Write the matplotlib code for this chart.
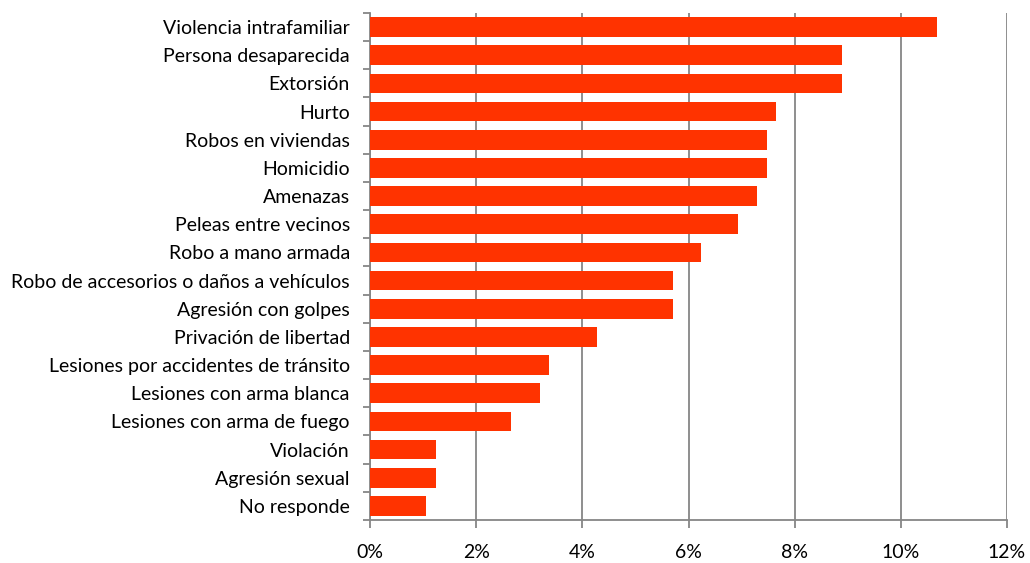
import numpy as np
import matplotlib.pyplot as plt
from matplotlib.ticker import FuncFormatter, FixedLocator

# ==========================================================
# Data (percent of respondents)
# ==========================================================

categories = [
    "Violencia intrafamiliar",
    "Persona desaparecida",
    "Extorsión",
    "Hurto",
    "Robos en viviendas",
    "Homicidio",
    "Amenazas",
    "Peleas entre vecinos",
    "Robo a mano armada",
    "Robo de accesorios o daños a vehículos",
    "Agresión con golpes",
    "Privación de libertad",
    "Lesiones por accidentes de tránsito",
    "Lesiones con arma blanca",
    "Lesiones con arma de fuego",
    "Violación",
    "Agresión sexual",
    "No responde",
]

values = [
    10.68, 8.89, 8.89, 7.65, 7.47, 7.47, 7.29, 6.94, 6.23,
    5.70, 5.70, 4.27, 3.37, 3.20, 2.66, 1.24, 1.24, 1.06,
]

x_ticks = [0, 2, 4, 6, 8, 10, 12]

plt.rcParams["font.family"] = ["Lato", "DejaVu Sans"]

fig = plt.figure(figsize=(10.30, 5.63), dpi=100)
ax = fig.add_axes([0.3592, 0.0764, 0.9777 - 0.3592, 0.977 - 0.0764])

grid_color = "#868686"

y = np.arange(len(categories))
ax.barh(y, values, height=0.7, color="#FF3300", zorder=3)

ax.set_xlim(0, 12)
ax.set_ylim(len(categories) - 0.5, -0.5)

ax.set_xticks(x_ticks)
ax.xaxis.set_major_formatter(FuncFormatter(lambda v, p: f"{v:.0f}%"))
ax.grid(axis="x", color=grid_color, linewidth=1.3, zorder=0)

ax.set_yticks(y)
ax.set_yticklabels(categories)
ax.yaxis.set_minor_locator(FixedLocator(np.arange(-0.5, len(categories), 1.0)))
ax.tick_params(axis="y", which="major", length=0, pad=14.5, labelsize=14)
ax.tick_params(axis="y", which="minor", length=5, width=1.3, color=grid_color)
ax.tick_params(axis="x", length=6, width=1.3, color=grid_color, pad=11,
               labelsize=14)

for side in ["top", "right"]:
    ax.spines[side].set_visible(False)
for side in ["left", "bottom"]:
    ax.spines[side].set_color(grid_color)
    ax.spines[side].set_linewidth(1.3)

fig.savefig("out.png", dpi=100)
